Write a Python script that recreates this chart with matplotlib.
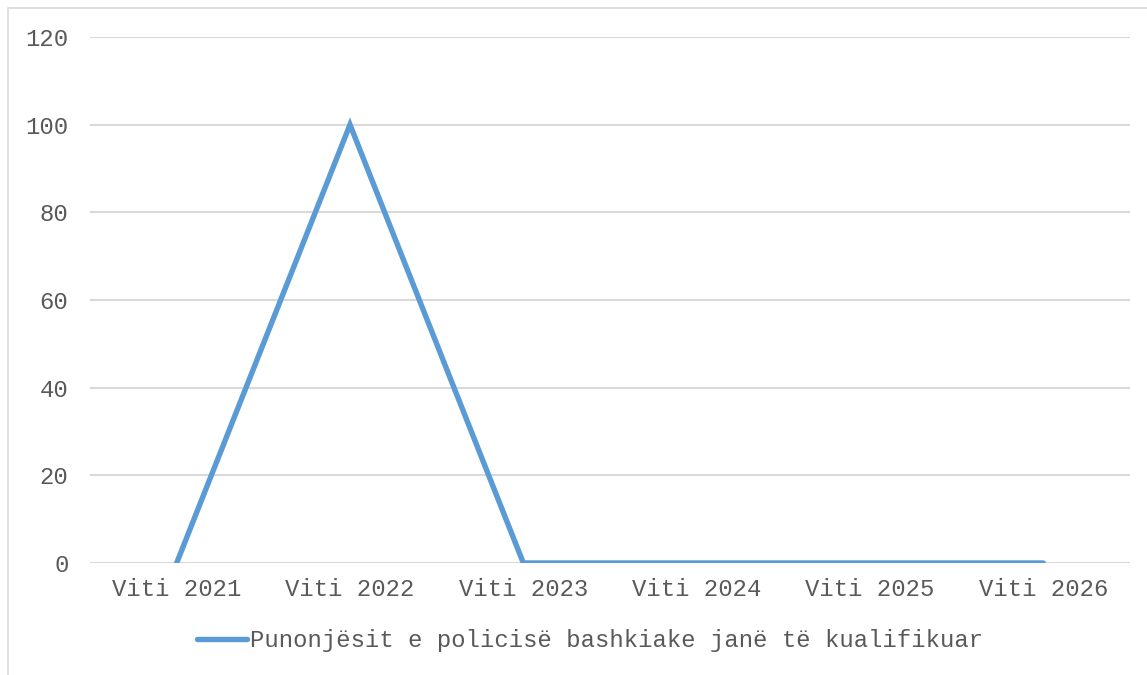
import matplotlib.pyplot as plt
from matplotlib.patches import Rectangle

years = ['Viti 2021', 'Viti 2022', 'Viti 2023', 'Viti 2024', 'Viti 2025', 'Viti 2026']
values = [0, 100, 0, 0, 0, 0]
series_name = 'Punonjësit e policisë bashkiake janë të kualifikuar'

plt.rcParams['font.family'] = ['Liberation Mono', 'DejaVu Sans Mono']
text_color = '#595959'

fig = plt.figure(figsize=(11.47, 6.75), dpi=100)
ax = fig.add_axes([90 / 1147, 1 - 563 / 675, 1040 / 1147, 526 / 675])

# outer chart border (only top/left visible in the reference)
fig.patches.append(Rectangle((8 / 1147, -0.1), 1.2, 1 - 8 / 675 + 0.1,
                             transform=fig.transFigure, fill=False,
                             edgecolor='#D9D9D9', linewidth=1.2))

x = range(len(years))
ax.plot(x, values, color='#5B9BD5', linewidth=3.9, solid_capstyle='round',
        solid_joinstyle='miter', label=series_name, zorder=3)

ax.set_xlim(-0.5, len(years) - 0.5)
ax.set_ylim(0, 120)
ax.set_yticks(range(0, 121, 20))
ax.set_xticks(list(x))
ax.set_xticklabels(years)

ax.yaxis.grid(True, color='#D9D9D9', linewidth=1.5)
ax.set_axisbelow(True)
for s in ax.spines.values():
    s.set_visible(False)
ax.tick_params(axis='both', length=0, labelsize=17.2, labelcolor=text_color)
ax.tick_params(axis='y', pad=15.5)
ax.tick_params(axis='x', pad=11)

leg = fig.legend(loc='center', bbox_to_anchor=(590 / 1147, 1 - 641 / 675), frameon=False,
                 fontsize=17.2, handlelength=2.1, handletextpad=0.1)
for t in leg.get_texts():
    t.set_color(text_color)

fig.savefig('out.png', dpi=100)
